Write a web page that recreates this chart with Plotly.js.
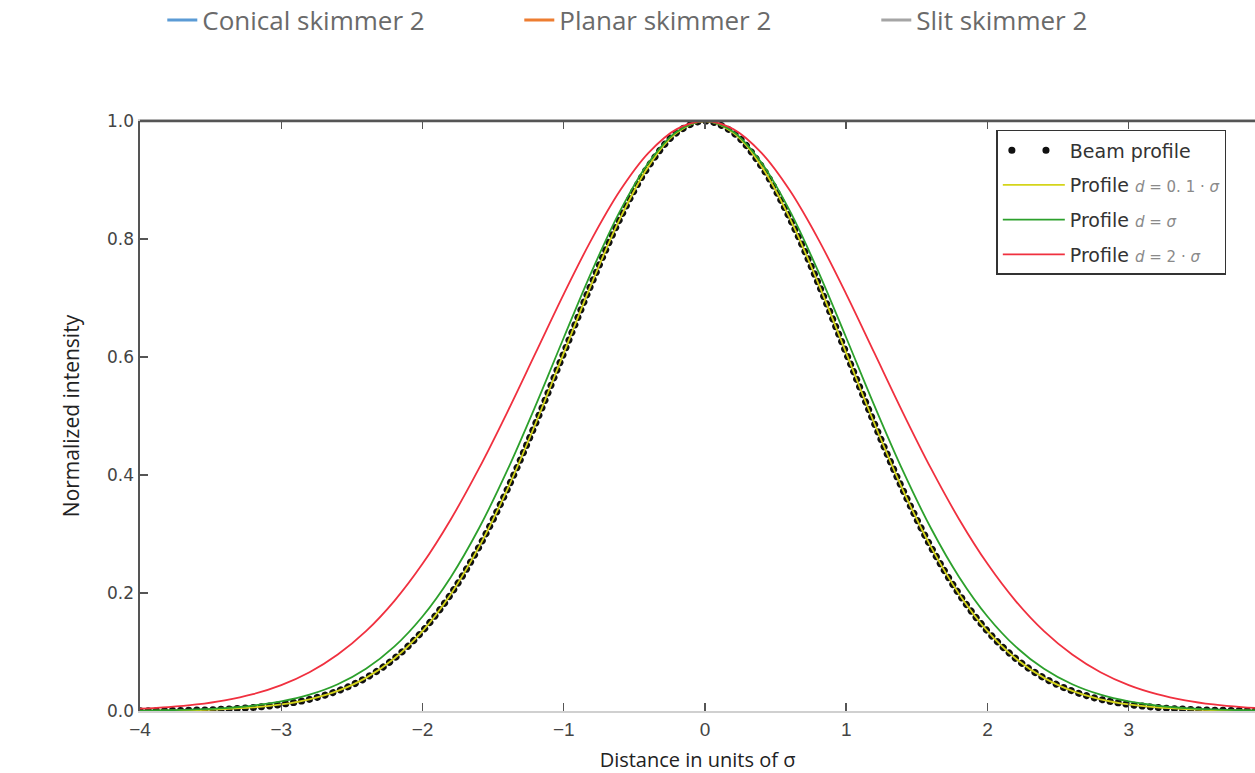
<!DOCTYPE html>
<html>
<head>
<meta charset="utf-8">
<script src="https://cdn.plot.ly/plotly-3.0.1.min.js"></script>
<style>
  html, body { margin: 0; padding: 0; background: #ffffff; }
  #chart { width: 1255px; height: 773px; }
</style>
</head>
<body>
<div id="chart"></div>
<script>
// Distance in units of sigma
const xDistance = [-4.0,-3.8,-3.6,-3.4,-3.2,-3.0,-2.8,-2.6,-2.4,-2.2,-2.0,-1.8,-1.6,-1.4,-1.2,-1.0,-0.8,-0.6,-0.4,-0.2,0.0,
                   0.2,0.4,0.6,0.8,1.0,1.2,1.4,1.6,1.8,2.0,2.2,2.4,2.6,2.8,3.0,3.2,3.4,3.6,3.8,4.0];

const beamProfile = [0.0003,0.0007,0.0015,0.0031,0.0060,0.0111,0.0198,0.0340,0.0561,0.0889,0.1353,0.1979,0.2780,0.3753,0.4868,0.6065,0.7261,0.8353,0.9231,0.9802,1.0000,
                     0.9802,0.9231,0.8353,0.7261,0.6065,0.4868,0.3753,0.2780,0.1979,0.1353,0.0889,0.0561,0.0340,0.0198,0.0111,0.0060,0.0031,0.0015,0.0007,0.0003];

const profileD01 = [0.0003,0.0007,0.0015,0.0031,0.0060,0.0111,0.0198,0.0340,0.0561,0.0889,0.1354,0.1980,0.2781,0.3754,0.4869,0.6066,0.7262,0.8354,0.9231,0.9802,1.0000,
                    0.9802,0.9231,0.8354,0.7262,0.6066,0.4869,0.3754,0.2781,0.1980,0.1354,0.0889,0.0561,0.0340,0.0198,0.0111,0.0060,0.0031,0.0015,0.0007,0.0003];

const profileD1 = [0.0007,0.0013,0.0026,0.0050,0.0092,0.0162,0.0276,0.0453,0.0716,0.1090,0.1602,0.2268,0.3097,0.4077,0.5172,0.6326,0.7460,0.8481,0.9293,0.9819,1.0000,
                   0.9819,0.9293,0.8481,0.7460,0.6326,0.5172,0.4077,0.3097,0.2268,0.1602,0.1090,0.0716,0.0453,0.0276,0.0162,0.0092,0.0050,0.0026,0.0013,0.0007];

const profileD2 = [0.0039,0.0066,0.0111,0.0181,0.0286,0.0439,0.0657,0.0957,0.1353,0.1863,0.2494,0.3247,0.4111,0.5063,0.6065,0.7067,0.8007,0.8825,0.9459,0.9862,1.0000,
                   0.9862,0.9459,0.8825,0.8007,0.7067,0.6065,0.5063,0.4111,0.3247,0.2494,0.1863,0.1353,0.0957,0.0657,0.0439,0.0286,0.0181,0.0111,0.0066,0.0039];

// Outer (spreadsheet) legend series – no visible values in the picture
const outerSeriesNames = ["Conical skimmer 2", "Planar skimmer 2", "Slit skimmer 2"];
const outerSeriesColors = ["#5b9bd5", "#ed7d31", "#a5a5a5"];

const yTickVals = [0, 0.2, 0.4, 0.6, 0.8, 1.0];
const xTickVals = [-4, -3, -2, -1, 0, 1, 2, 3, 4];

const mathStyle = 'font-size:15px;color:#8a8a8a';
const traces = [
  { x: xDistance, y: beamProfile, mode: 'lines', name: 'Beam profile', legendgroup: 'g0',
    line: { color: '#111111', width: 7, shape: 'spline' }, legend: 'legend' },
  { x: xDistance, y: profileD01, mode: 'lines', legendgroup: 'g1',
    name: 'Profile <span style="' + mathStyle + '"><i>d</i> = 0. 1 · <i>σ</i></span>',
    line: { color: '#d4d41a', width: 1.8, shape: 'spline' }, legend: 'legend' },
  { x: xDistance, y: profileD1, mode: 'lines', legendgroup: 'g2',
    name: 'Profile <span style="' + mathStyle + '"><i>d</i> = <i>σ</i></span>',
    line: { color: '#2ca02c', width: 1.8, shape: 'spline' }, legend: 'legend' },
  { x: xDistance, y: profileD2, mode: 'lines', legendgroup: 'g3',
    name: 'Profile <span style="' + mathStyle + '"><i>d</i> = 2 · <i>σ</i></span>',
    line: { color: '#f0303f', width: 1.8, shape: 'spline' }, legend: 'legend' }
];
outerSeriesNames.forEach((n, i) => {
  traces.push({ x: [null], y: [null], mode: 'lines', name: n,
    line: { color: outerSeriesColors[i], width: 3 }, legend: 'legend2' });
});

const layout = {
  width: 1255, height: 773,
  margin: { l: 140, r: 0, t: 121, b: 62, autoexpand: false },
  paper_bgcolor: '#ffffff', plot_bgcolor: '#ffffff',
  font: { family: 'DejaVu Sans, sans-serif', color: '#333333' },
  xaxis: {
    range: [-4, 3.894], tickvals: xTickVals, ticktext: xTickVals.map(v => v < 0 ? '−' + Math.abs(v) : String(v)),
    ticks: 'inside', ticklen: 8, tickwidth: 1.5, tickcolor: '#555',
    showline: true, linecolor: '#d0d0d0', linewidth: 2, mirror: 'ticks',
    showgrid: false, zeroline: false, automargin: false,
    tickfont: { family: 'Liberation Sans Narrow, Liberation Sans, sans-serif', size: 19, color: '#444' },
    title: { text: 'Distance in units of σ', standoff: 26,
      font: { family: 'Open Sans, sans-serif', size: 20, color: '#222' } }
  },
  yaxis: {
    range: [0, 1], tickvals: yTickVals, tickformat: '.1f',
    ticks: 'inside', ticklen: 8, tickwidth: 1.5, tickcolor: '#555',
    showline: true, linecolor: '#555555', linewidth: 2.5, mirror: false,
    showgrid: false, zeroline: false, automargin: false,
    tickfont: { family: 'DejaVu Sans, sans-serif', size: 17, color: '#444' },
    title: { text: 'Normalized intensity', standoff: 22,
      font: { family: 'Open Sans, sans-serif', size: 21, color: '#222' } }
  },
  shapes: [
    { type: 'line', xref: 'paper', yref: 'paper', x0: 0, x1: 1, y0: 1, y1: 1,
      line: { color: '#555555', width: 2.5 }, layer: 'above' }
  ],
  legend: {
    x: 0.768, y: 0.985, xanchor: 'left', yanchor: 'top',
    bgcolor: '#ffffff', bordercolor: '#333333', borderwidth: 1.5,
    font: { family: 'DejaVu Sans, sans-serif', size: 19, color: '#333' },
    tracegroupgap: 7, itemwidth: 62
  },
  legend2: {
    orientation: 'h', x: 0.02, y: 1.171, xanchor: 'left', yanchor: 'middle',
    font: { family: 'Open Sans, sans-serif', size: 26, color: '#6a6a6a' },
    entrywidth: 312, entrywidthmode: 'pixels', bgcolor: 'rgba(0,0,0,0)'
  },
  showlegend: true
};

Plotly.newPlot('chart', traces, layout, { displayModeBar: false, staticPlot: true }).then(gd => {
  // render the beam profile as a dense row of round dots
  const lines = gd.querySelectorAll('.scatterlayer .trace');
  if (lines.length) {
    const p = lines[0].querySelector('path.js-line');
    if (p) { p.style.strokeDasharray = '0.1px,8px'; p.style.strokeLinecap = 'round'; }
  }
  const legTraces = gd.querySelectorAll('.legend .traces');
  legTraces.forEach(t => {
    const txt = t.textContent || '';
    if (txt.indexOf('Beam profile') >= 0) {
      const lp = t.querySelector('path.js-line');
      if (lp) {
        lp.style.strokeDasharray = '0.1px,34px';
        lp.style.strokeDashoffset = '-9px';
        lp.style.strokeLinecap = 'round';
        lp.style.strokeWidth = '7px';
      }
    }
  });
});
</script>
</body>
</html>
